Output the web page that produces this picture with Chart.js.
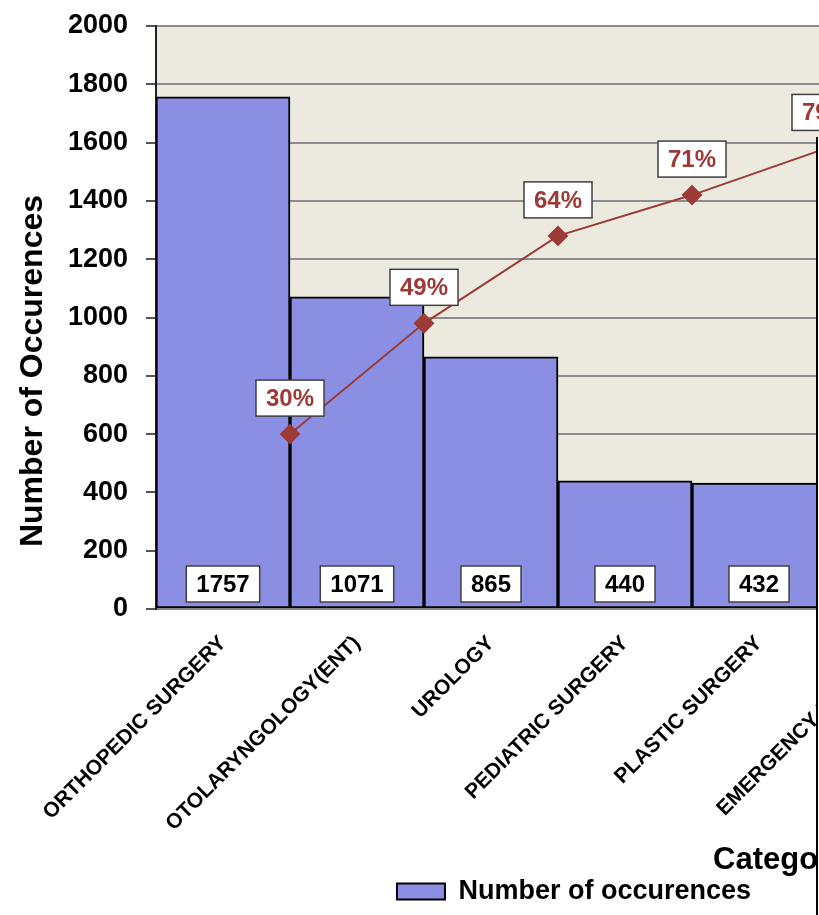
<!DOCTYPE html>
<html>
<head>
<meta charset="utf-8">
<title>Number of occurences by category</title>
<script src="https://cdn.jsdelivr.net/npm/chart.js@4.4.1/dist/chart.umd.min.js"></script>
<style>
  html, body { margin:0; padding:0; background:#fff; overflow:hidden; }
  #wrap { position:relative; width:819px; height:915px; overflow:hidden; }
  #chart { position:absolute; left:0; top:0; }
  /* the picture is cut off on the right */
  #edge { position:absolute; left:816px; top:137px; width:20px; height:800px; background:#fff; border-left:2px solid #000; }
</style>
</head>
<body>
<div id="wrap">
  <canvas id="chart" width="1148" height="915"></canvas>
  <div id="edge"></div>
</div>
<script>
// Data
const categories = ['ORTHOPEDIC SURGERY', 'OTOLARYNGOLOGY(ENT)', 'UROLOGY', 'PEDIATRIC SURGERY', 'PLASTIC SURGERY', 'EMERGENCY MEDICINE'];
const occurrences = [1757, 1071, 865, 440, 432, 425];
const cumulativePct = [30, 49, 64, 71, 79];
const yTitle = 'Number of Occurences';
const xTitle = 'Category';
const seriesName = 'Number of occurences';

const font = "'Liberation Sans', Arial, sans-serif";
const barColor = '#8B8FE4';
const lineColor = '#9C3A37';
const plotBg = '#ECE9DF';

const pctPoints = cumulativePct.map((v, i) => ({ x: i + 1, y: v }));

const plotBackground = {
  id: 'plotBackground',
  beforeDraw(chart){
    const { ctx, chartArea: a } = chart;
    ctx.save();
    ctx.fillStyle = plotBg;
    ctx.fillRect(a.left, a.top, a.right - a.left, a.bottom - a.top);
    ctx.restore();
  }
};

function boxLabel(ctx, text, cx, cy, color){
  ctx.font = `bold 24px ${font}`;
  const w = ctx.measureText(text).width + 20, h = 36;
  ctx.fillStyle = '#fff';
  ctx.fillRect(cx - w / 2, cy - h / 2, w, h);
  ctx.strokeStyle = '#404040';
  ctx.lineWidth = 1.5;
  ctx.strokeRect(cx - w / 2, cy - h / 2, w, h);
  ctx.fillStyle = color;
  ctx.textAlign = 'center';
  ctx.textBaseline = 'middle';
  ctx.fillText(text, cx, cy + 1);
}

const valueLabels = {
  id: 'valueLabels',
  afterDatasetsDraw(chart){
    const ctx = chart.ctx;
    const y0 = chart.scales.y.getPixelForValue(0);
    ctx.save();
    chart.getDatasetMeta(0).data.forEach((bar, i) => boxLabel(ctx, String(occurrences[i]), bar.x, y0 - 25, '#000'));
    chart.getDatasetMeta(1).data.forEach((pt, i) => boxLabel(ctx, cumulativePct[i] + '%', pt.x, pt.y - 36, lineColor));
    ctx.restore();
  }
};

const axisTitles = {
  id: 'axisTitles',
  afterDraw(chart){
    const ctx = chart.ctx;
    ctx.save();
    ctx.fillStyle = '#000';
    ctx.font = `bold 32px ${font}`;
    ctx.textAlign = 'center';
    ctx.textBaseline = 'middle';
    ctx.translate(33, 371);
    ctx.rotate(-Math.PI / 2);
    ctx.fillText(yTitle, 0, 0);
    ctx.restore();

    ctx.save();
    ctx.fillStyle = '#000';
    ctx.font = `bold 31px ${font}`;
    ctx.textAlign = 'left';
    ctx.textBaseline = 'alphabetic';
    ctx.fillText(xTitle, 713, 869);
    ctx.restore();
  }
};

new Chart(document.getElementById('chart'), {
  data: {
    labels: categories,
    datasets: [
      {
        type: 'bar',
        label: seriesName,
        data: occurrences,
        backgroundColor: barColor,
        borderColor: '#000',
        borderWidth: 2,
        borderSkipped: false,
        grouped: false,
        categoryPercentage: 1,
        barPercentage: 1,
        xAxisID: 'x',
        yAxisID: 'y',
        order: 2
      },
      {
        type: 'line',
        label: 'Cumulative %',
        data: pctPoints,
        borderColor: lineColor,
        borderWidth: 2,
        pointStyle: 'rectRot',
        pointRadius: 9,
        pointBackgroundColor: lineColor,
        pointBorderColor: lineColor,
        tension: 0,
        xAxisID: 'x2',
        yAxisID: 'y2',
        order: 1
      }
    ]
  },
  options: {
    responsive: false,
    animation: false,
    layout: { padding: { top: 26, left: 0, right: 0, bottom: 0 } },
    plugins: {
      tooltip: { enabled: false },
      legend: {
        position: 'bottom',
        labels: {
          filter: item => item.datasetIndex === 0,
          color: '#000',
          font: { family: font, size: 27, weight: 'bold' },
          boxWidth: 48,
          boxHeight: 16,
          padding: 0
        }
      }
    },
    scales: {
      x: {
        type: 'category',
        offset: true,
        grid: { display: false },
        border: { display: false },
        ticks: {
          color: '#000',
          font: { family: font, size: 21, weight: 'bold' },
          minRotation: 45,
          maxRotation: 45,
          autoSkip: false,
          padding: 14
        },
        afterFit(s){ s.height = 269; }
      },
      x2: { type: 'linear', min: 0, max: categories.length, display: false },
      y: {
        position: 'left',
        min: 0,
        max: 2000,
        ticks: {
          stepSize: 200,
          color: '#000',
          font: { family: font, size: 27, weight: 'bold', lineHeight: 0.4 },
          padding: 18,
          callback: v => String(v)
        },
        grid: { color: '#8c8c8c', lineWidth: 2, tickLength: 10, tickColor: '#555', tickWidth: 2 },
        border: { color: '#222', width: 2 },
        afterFit(s){ s.width = 156; }
      },
      y2: {
        position: 'right',
        min: 0,
        max: 100,
        grid: { display: false, drawOnChartArea: false },
        ticks: { display: false },
        border: { display: false },
        afterFit(s){ s.width = 188; }
      }
    }
  },
  plugins: [plotBackground, valueLabels, axisTitles]
});
</script>
</body>
</html>
